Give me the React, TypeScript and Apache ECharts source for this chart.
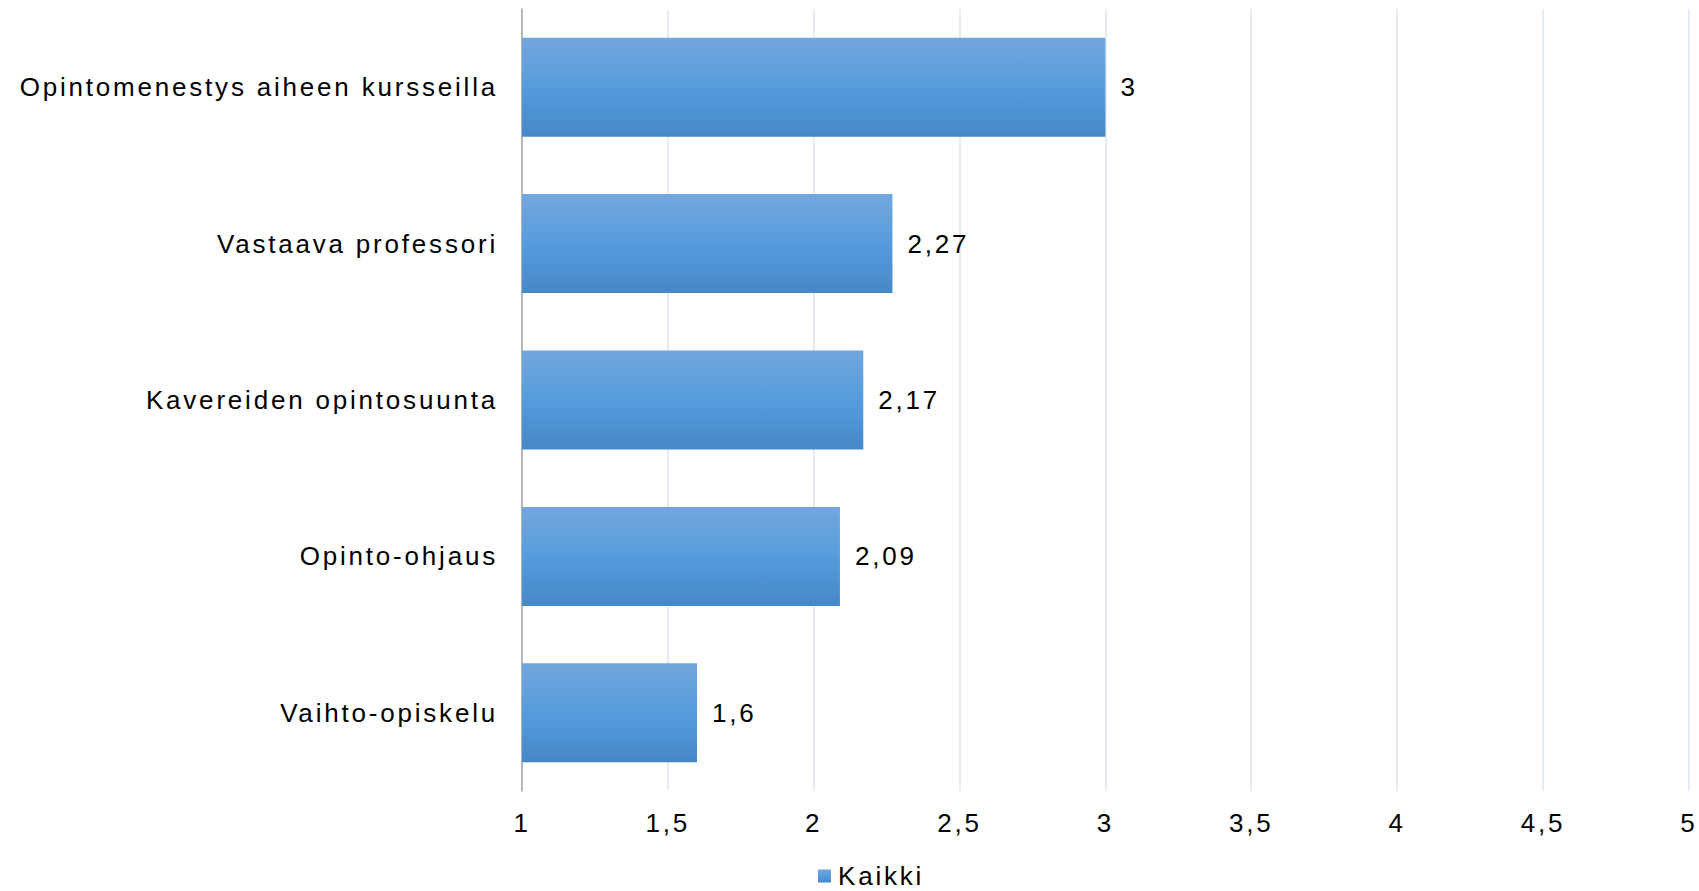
import React, { useEffect, useRef } from "react";
import * as echarts from "echarts";

const categories: string[] = [
  "Opintomenestys aiheen kursseilla",
  "Vastaava professori",
  "Kavereiden opintosuunta",
  "Opinto-ohjaus",
  "Vaihto-opiskelu",
];
const values: number[] = [3, 2.27, 2.17, 2.09, 1.6];
const seriesName = "Kaikki";
const axisMin = 1;
const axisMax = 5;
const axisStep = 0.5;

const fmt = (v: number) => String(v).replace(".", ",");

export default function App() {
  const ref = useRef<HTMLDivElement>(null);
  useEffect(() => {
    if (!ref.current) return;
    const chart = echarts.init(ref.current, undefined, { renderer: "svg" });
    const font = "Liberation Sans, Arial, sans-serif";
    chart.setOption({
      animation: false,
      backgroundColor: "#ffffff",
      textStyle: { fontFamily: font },
      grid: { left: 522, right: 10, top: 9, bottom: 100, containLabel: false },
      legend: {
        data: [seriesName],
        left: 813,
        top: 858,
        itemWidth: 13,
        itemHeight: 13,
        itemGap: 5,
        icon: "rect",
        textStyle: { fontSize: 26, color: "#000", fontFamily: font, padding: [0, 0, 0, 2] },
      },
      xAxis: {
        type: "value",
        min: axisMin,
        max: axisMax,
        interval: axisStep,
        axisLine: { show: false },
        axisTick: { show: false },
        splitLine: { show: true, lineStyle: { color: "#DCE5F1", width: 1.5 } },
        axisLabel: {
          fontSize: 26,
          color: "#000",
          margin: 19,
          fontFamily: font,
          formatter: (v: number) => fmt(v),
        },
      },
      yAxis: {
        type: "category",
        data: categories,
        inverse: true,
        axisLine: { show: true, lineStyle: { color: "#A6A6A6", width: 1.5 } },
        axisTick: { show: false },
        splitLine: { show: false },
        axisLabel: { fontSize: 26, color: "#000", margin: 24, fontFamily: font },
      },
      series: [
        {
          name: seriesName,
          type: "bar",
          data: values,
          barCategoryGap: "36.7%",
          itemStyle: {
            color: new echarts.graphic.LinearGradient(0, 0, 0, 1, [
              { offset: 0, color: "#72A7DD" },
              { offset: 0.5, color: "#569CDD" },
              { offset: 1, color: "#4588C8" },
            ]),
          },
          label: {
            show: true,
            position: "right",
            distance: 15,
            fontSize: 26,
            color: "#000",
            fontFamily: font,
            formatter: (p: any) => fmt(p.value),
          },
        },
      ],
    });
    return () => chart.dispose();
  }, []);
  return (
    <>
      <style>{`#chartbox text { letter-spacing: 2.8px; }`}</style>
      <div
        id="chartbox"
        ref={ref}
        style={{ position: "fixed", left: 0, top: 0, width: 1699, height: 891 }}
      />
    </>
  );
}
